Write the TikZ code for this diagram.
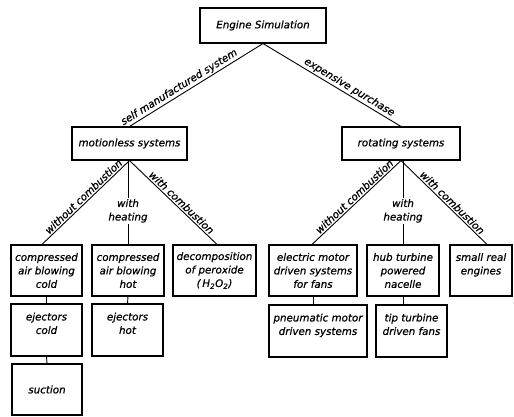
\documentclass[tikz,border=0pt]{standalone}
\usepackage{fontspec}
\setmainfont{DejaVu Sans}[ItalicFeatures={FakeBold=0.7}]
\begin{document}
\begin{tikzpicture}[x=1pt,y=-1pt,
  every node/.style={font=\fontsize{10.3}{13.5}\selectfont\itshape},
  box/.style={draw, line width=1.1pt, align=center, inner sep=0pt},
  lab/.style={sloped, above, inner sep=1.5pt},
  mid/.style={fill=white, align=center, inner sep=1pt},
  link/.style={line width=0.9pt}]
\useasboundingbox (0,0) rectangle (514,417);

% root
\node[box, minimum width=126pt, minimum height=35pt] (eng) at (263,25.5) {Engine Simulation};

% second level
\node[box, minimum width=115pt, minimum height=33pt] (mot) at (129.5,143.5) {motionless systems};
\node[box, minimum width=118pt, minimum height=33pt] (rot) at (401,143.5) {rotating systems};

% motionless branch
\node[box, minimum width=71pt, minimum height=51pt] (a1) at (46.5,270.5) {compressed\\air blowing\\cold};
\node[box, minimum width=72pt, minimum height=51pt] (a2) at (128,270.5) {compressed\\air blowing\\hot};
\node[box, minimum width=83pt, minimum height=51pt] (a3) at (214.5,270.5) {decomposition\\of peroxide\\(\,H\textsubscript{2}O\textsubscript{2})};
\node[box, minimum width=71pt, minimum height=52pt] (a4) at (46.5,330) {ejectors\\cold\\\mbox{}};
\node[box, minimum width=71pt, minimum height=52pt] (a5) at (127.5,330) {ejectors\\hot\\\mbox{}};
\node[box, minimum width=70pt, minimum height=51pt] (a6) at (47,389.5) {suction};

% rotating branch
\node[box, minimum width=88pt, minimum height=51pt] (b1) at (313,270.5) {electric motor\\driven systems\\for fans};
\node[box, minimum width=72pt, minimum height=51pt] (b2) at (403,270.5) {hub turbine\\powered\\nacelle};
\node[box, minimum width=62pt, minimum height=51pt] (b3) at (481,270.5) {small real\\engines\\\mbox{}};
\node[box, minimum width=98pt, minimum height=52pt] (b4) at (318,331) {pneumatic motor\\driven systems\\\mbox{}};
\node[box, minimum width=71pt, minimum height=52pt] (b5) at (411.5,331) {tip turbine\\driven fans\\\mbox{}};

% connectors with labels
\draw[link] (eng.south) -- node[lab, pos=0.6] {self manufactured system} (mot.north);
\draw[link] (eng.south) -- node[lab, pos=0.6] {expensive purchase} (rot.north);

\draw[link] (mot.south) -- node[lab, pos=0.48] {without combustion} ([xshift=-4.5pt]a1.north);
\draw[link] (mot.south -| a2.north) -- node[mid, pos=0.6] {with\\heating} (a2.north);
\draw[link] (mot.south) -- node[lab, pos=0.55] {with combustion} ([xshift=2.5pt]a3.north);

\draw[link] (rot.south) -- node[lab, pos=0.48] {without combustion} ([xshift=-1pt]b1.north);
\draw[link] (rot.south -| b2.north) -- node[mid, pos=0.6] {with\\heating} (b2.north);
\draw[link] (rot.south) -- node[lab, pos=0.55] {with combustion} ([xshift=6pt]b3.north);

% plain connectors
\draw[link] (a1.south) -- (a4.north);
\draw[link] (a2.south) -- (a5.north);
\draw[link] (a4.south) -- (a6.north);
\draw[link] (b1.south) -- (b1.south |- b4.north);
\draw[link] (b2.south) -- (b2.south |- b5.north);
\end{tikzpicture}
\end{document}
